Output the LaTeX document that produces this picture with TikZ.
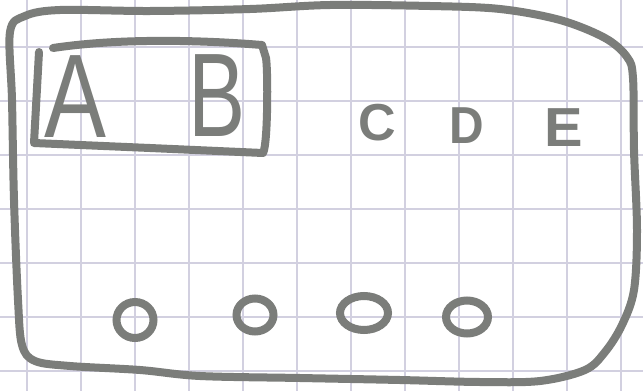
\documentclass[tikz,border=0pt]{standalone}
\usepackage{fontspec}
\setmainfont{Liberation Sans}
\usetikzlibrary{shapes.geometric}
\definecolor{pen}{HTML}{7B7D7A}
\definecolor{gridline}{HTML}{D2D0E0}
\begin{document}
\begin{tikzpicture}[
  x=1pt, y=-1pt,
  stroke/.style={draw=pen, line width=8pt, line cap=round, line join=round},
  bigletter/.style={text=pen, anchor=base, inner sep=0pt, font=\fontsize{119}{119}\selectfont},
  smallletter/.style={text=pen, anchor=base, inner sep=0pt, font=\bfseries\fontsize{52}{52}\selectfont},
  loop/.style={ellipse, draw=pen, line width=8pt, inner sep=0pt},
]
\useasboundingbox (0,0) rectangle (643,391);
\fill[white] (0,0) rectangle (643,391);

% squared paper
\foreach \gx in {27,81,...,640} \draw[gridline, line width=1.2pt] (\gx,0) -- (\gx,391);
\foreach \gy in {47,101,...,390} \draw[gridline, line width=1.2pt] (0,\gy) -- (643,\gy);

% outer frame
\draw[stroke] plot[smooth cycle, tension=0.55] coordinates {
  (10,32) (25,16) (60,10) (150,11) (250,9) (330,5) (430,6) (500,9) (560,20)
  (605,38) (627,57) (633,78) (634,150) (637,230) (634,290) (622,325) (605,352)
  (585,370) (540,381) (480,382) (400,380) (300,378) (200,376) (140,370)
  (70,366) (35,361) (22,345) (18,300) (14,200) (12,100)};

% inner box round A and B
\draw[stroke] (39,52) -- (34,143) -- (150,148) -- (263,153)
  .. controls (268,145) and (268,70) .. (266,58) -- (262,45)
  .. controls (200,40) and (120,38) .. (53,48);

\node[bigletter, xscale=0.78, transform shape] (a) at (75,137) {A};
\node[bigletter, xscale=0.72, transform shape] (b) at (217,136) {B};
\node[smallletter] (c) at (377,140) {C};
\node[smallletter, xscale=0.92, transform shape] (d) at (467,143) {D};
\node[smallletter, font=\bfseries\fontsize{55}{55}\selectfont, xscale=1.05, transform shape] (e) at (564,146) {E};

\node[loop, minimum width=37pt, minimum height=36pt] (o1) at (135,320) {};
\node[loop, minimum width=37pt, minimum height=33pt] (o2) at (255,315) {};
\node[loop, minimum width=48pt, minimum height=34pt] (o3) at (364,313) {};
\node[loop, minimum width=42pt, minimum height=33pt] (o4) at (467,317) {};
\end{tikzpicture}
\end{document}
